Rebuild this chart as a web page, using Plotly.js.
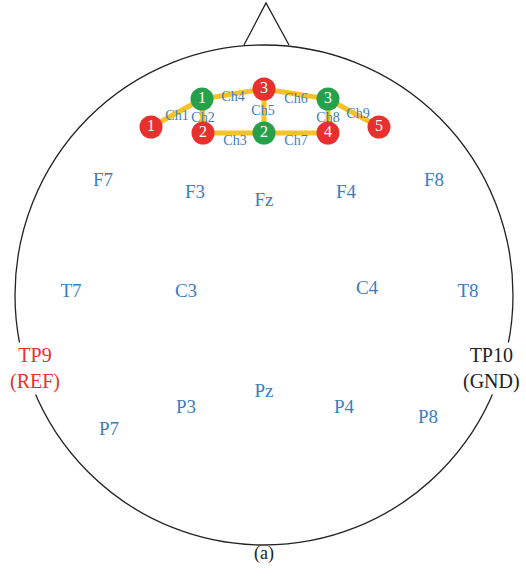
<!DOCTYPE html>
<html><head><meta charset="utf-8">
<script src="https://cdn.plot.ly/plotly-3.0.1.min.js"></script>
<style>html,body{margin:0;padding:0;background:#fff}</style>
</head><body><div id="chart" style="width:526px;height:578px"></div>
<script>
// Scalp electrode labels (10-20 system) and their positions on the head map
const electrodeNames = ['F7','F3','Fz','F4','F8','T7','C3','C4','T8','P3','Pz','P4','P7','P8'];
const electrodeX = [103,195,264,346,434,71,186,367,468,186,264,344,109,428];
const electrodeY = [181,193,201,193,181,292,292,289,292,408,392,408,430,418];

// Reference / ground electrodes
const refName = 'TP9<br>(REF)', refX = 35, refY = 368;
const gndName = 'TP10<br>(GND)', gndX = 491, gndY = 368;

// Forehead sensor nodes
const nodeLabels = ['1','1','3','3','5','2','2','4'];
const nodeColors = ['red','green','red','green','red','red','green','red'];
const nodeX = [151,202,264,328,379,203,264,328];
const nodeY = [127,99,89,99,127,133,133,133];

// Channels: pairs of node indices
const chNames = ['Ch1','Ch2','Ch3','Ch4','Ch5','Ch6','Ch7','Ch8','Ch9'];
const chFrom = [0,1,5,1,2,2,6,3,3];
const chTo   = [1,5,6,2,6,3,7,7,4];
const chLabelX = [177,203,235,233,263,296,296,328,358];
const chLabelY = [116,118,141,97,111,99,141,118,114];

const colorMap = {red:'#e8312f', green:'#27a04a'};
const blue = '#3a7dc0';
const serif = 'Liberation Serif, DejaVu Serif, serif';

const traces = [];
// channel lines
const lx = [], ly = [];
for (let i = 0; i < chFrom.length; i++) {
  lx.push(nodeX[chFrom[i]], nodeX[chTo[i]], null);
  ly.push(nodeY[chFrom[i]], nodeY[chTo[i]], null);
}
traces.push({x: lx, y: ly, mode: 'lines', line: {color: '#f5c324', width: 5}, hoverinfo: 'skip'});
// channel labels
traces.push({x: chLabelX, y: chLabelY, mode: 'text', text: chNames,
  textfont: {family: serif, size: 14, color: blue}, hoverinfo: 'skip'});
// nodes
traces.push({x: nodeX, y: nodeY, mode: 'markers+text', text: nodeLabels,
  marker: {size: 23, color: nodeColors.map(c => colorMap[c]), line: {width: 0}},
  textfont: {family: serif, size: 16, color: '#ffffff'}, textposition: 'middle center', hoverinfo: 'skip'});
// electrode labels
traces.push({x: electrodeX, y: electrodeY, mode: 'text', text: electrodeNames,
  textfont: {family: serif, size: 19, color: blue}, hoverinfo: 'skip'});

const layout = {
  width: 526, height: 578,
  margin: {l: 0, r: 0, t: 0, b: 0},
  paper_bgcolor: '#fff', plot_bgcolor: '#fff',
  showlegend: false,
  xaxis: {range: [0, 526], visible: false, fixedrange: true},
  yaxis: {range: [578, 0], visible: false, fixedrange: true},
  shapes: [
    {type: 'circle', xref: 'x', yref: 'y', x0: 15, x1: 513, y0: 45, y1: 545,
     line: {color: '#222', width: 1.3}, layer: 'below'},
    {type: 'path', path: 'M 244 45 L 266 3 L 289 45', line: {color: '#222', width: 1.3}, layer: 'below'}
  ],
  annotations: [
    {x: refX, y: refY, text: refName, showarrow: false, bgcolor: '#fff',
     font: {family: serif, size: 20, color: '#e8312f'}},
    {x: gndX, y: gndY, text: gndName, showarrow: false, bgcolor: '#fff',
     font: {family: serif, size: 20, color: '#222'}},
    {x: 264, y: 553, text: '(a)', showarrow: false,
     font: {family: serif, size: 18, color: '#222'}}
  ]
};
Plotly.newPlot('chart', traces, layout, {staticPlot: true, displayModeBar: false});
</script></body></html>
